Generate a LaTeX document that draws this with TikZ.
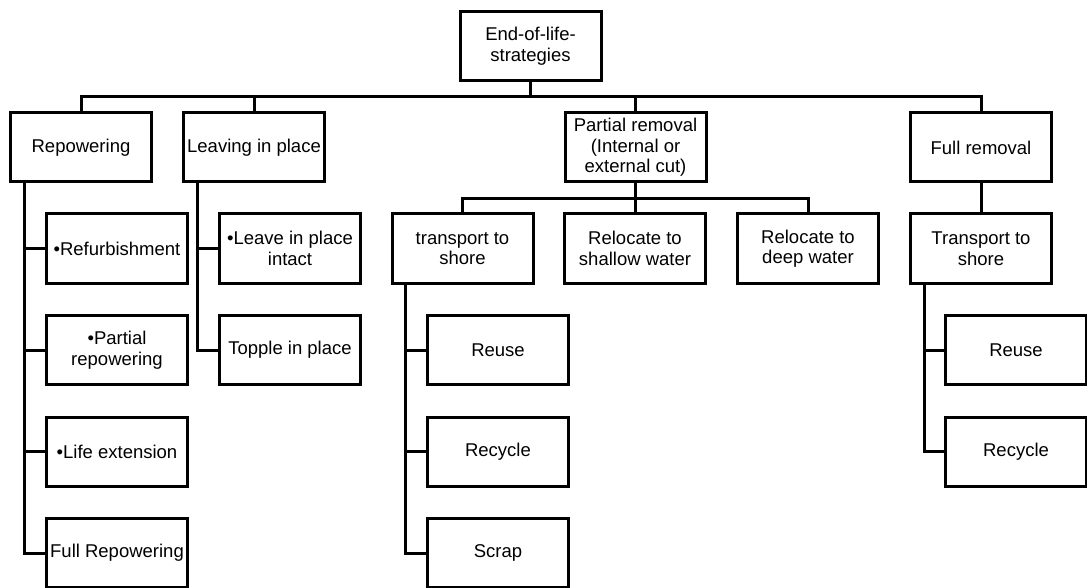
\documentclass[tikz,border=0pt]{standalone}
\usepackage{fontspec}
\setmainfont{Liberation Sans}
\tikzset{b/.style={draw,line width=3pt,minimum width=141pt,minimum height=69pt,inner sep=2pt,align=center,font=\fontsize{18.5}{20.5}\selectfont}}
\tikzset{l/.style={line width=3pt}}

\begin{document}
\begin{tikzpicture}
  [x=1pt,y=-1pt]
  \useasboundingbox (0,0) rectangle (1087,588);
  \node[b] (top) at (530.5,46) {End-of-life-\\strategies};
  \node[b] (rep) at (81,147.5) {Repowering};
  \node[b] (leave) at (254,147.5) {Leaving in place};
  \node[b] (part) at (635.5,147.5) {Partial removal\\(Internal or\\external cut)};
  \node[b] (full) at (981,147.5) {Full removal};
  \node[b] (refb) at (117,248.5) {•Refurbishment};
  \node[b] (prep) at (117,350) {•Partial\\repowering};
  \node[b] (life) at (117,451.5) {•Life extension};
  \node[b] (fullrep) at (117,553) {Full Repowering};
  \node[b] (intact) at (290,248.5) {•Leave in place\\intact};
  \node[b] (topple) at (290,350) {Topple in place};
  \node[b] (tts) at (462.5,248.5) {transport to\\shore};
  \node[b] (shallow) at (635,248.5) {Relocate to\\shallow water};
  \node[b] (deep) at (808,248.5) {Relocate to\\deep water};
  \node[b] (reusea) at (498,350) {Reuse};
  \node[b] (recyclea) at (498,451.5) {Recycle};
  \node[b] (scrap) at (498,553) {Scrap};
  \node[b] (ttsb) at (981,248.5) {Transport to\\shore};
  \node[b] (reuseb) at (1016,350) {Reuse};
  \node[b] (recycleb) at (1016,451.5) {Recycle};
  \foreach \n in {rep,leave,part,full}
    \draw[l] (top.south) -- ([yshift=-15pt]top.south) -| (\n.north);
  \foreach \n in {tts,shallow,deep}
    \draw[l] (part.south) -- ([yshift=-15pt]part.south) -| (\n.north);
  \draw[l] (full.south) -- (ttsb.north);
  \foreach \n in {refb,prep,life,fullrep}
    \draw[l] ([xshift=15pt]rep.south west) |- (\n.west);
  \foreach \n in {intact,topple}
    \draw[l] ([xshift=15pt]leave.south west) |- (\n.west);
  \foreach \n in {reusea,recyclea,scrap}
    \draw[l] ([xshift=15pt]tts.south west) |- (\n.west);
  \foreach \n in {reuseb,recycleb}
    \draw[l] ([xshift=15pt]ttsb.south west) |- (\n.west);
\end{tikzpicture}
\end{document}
